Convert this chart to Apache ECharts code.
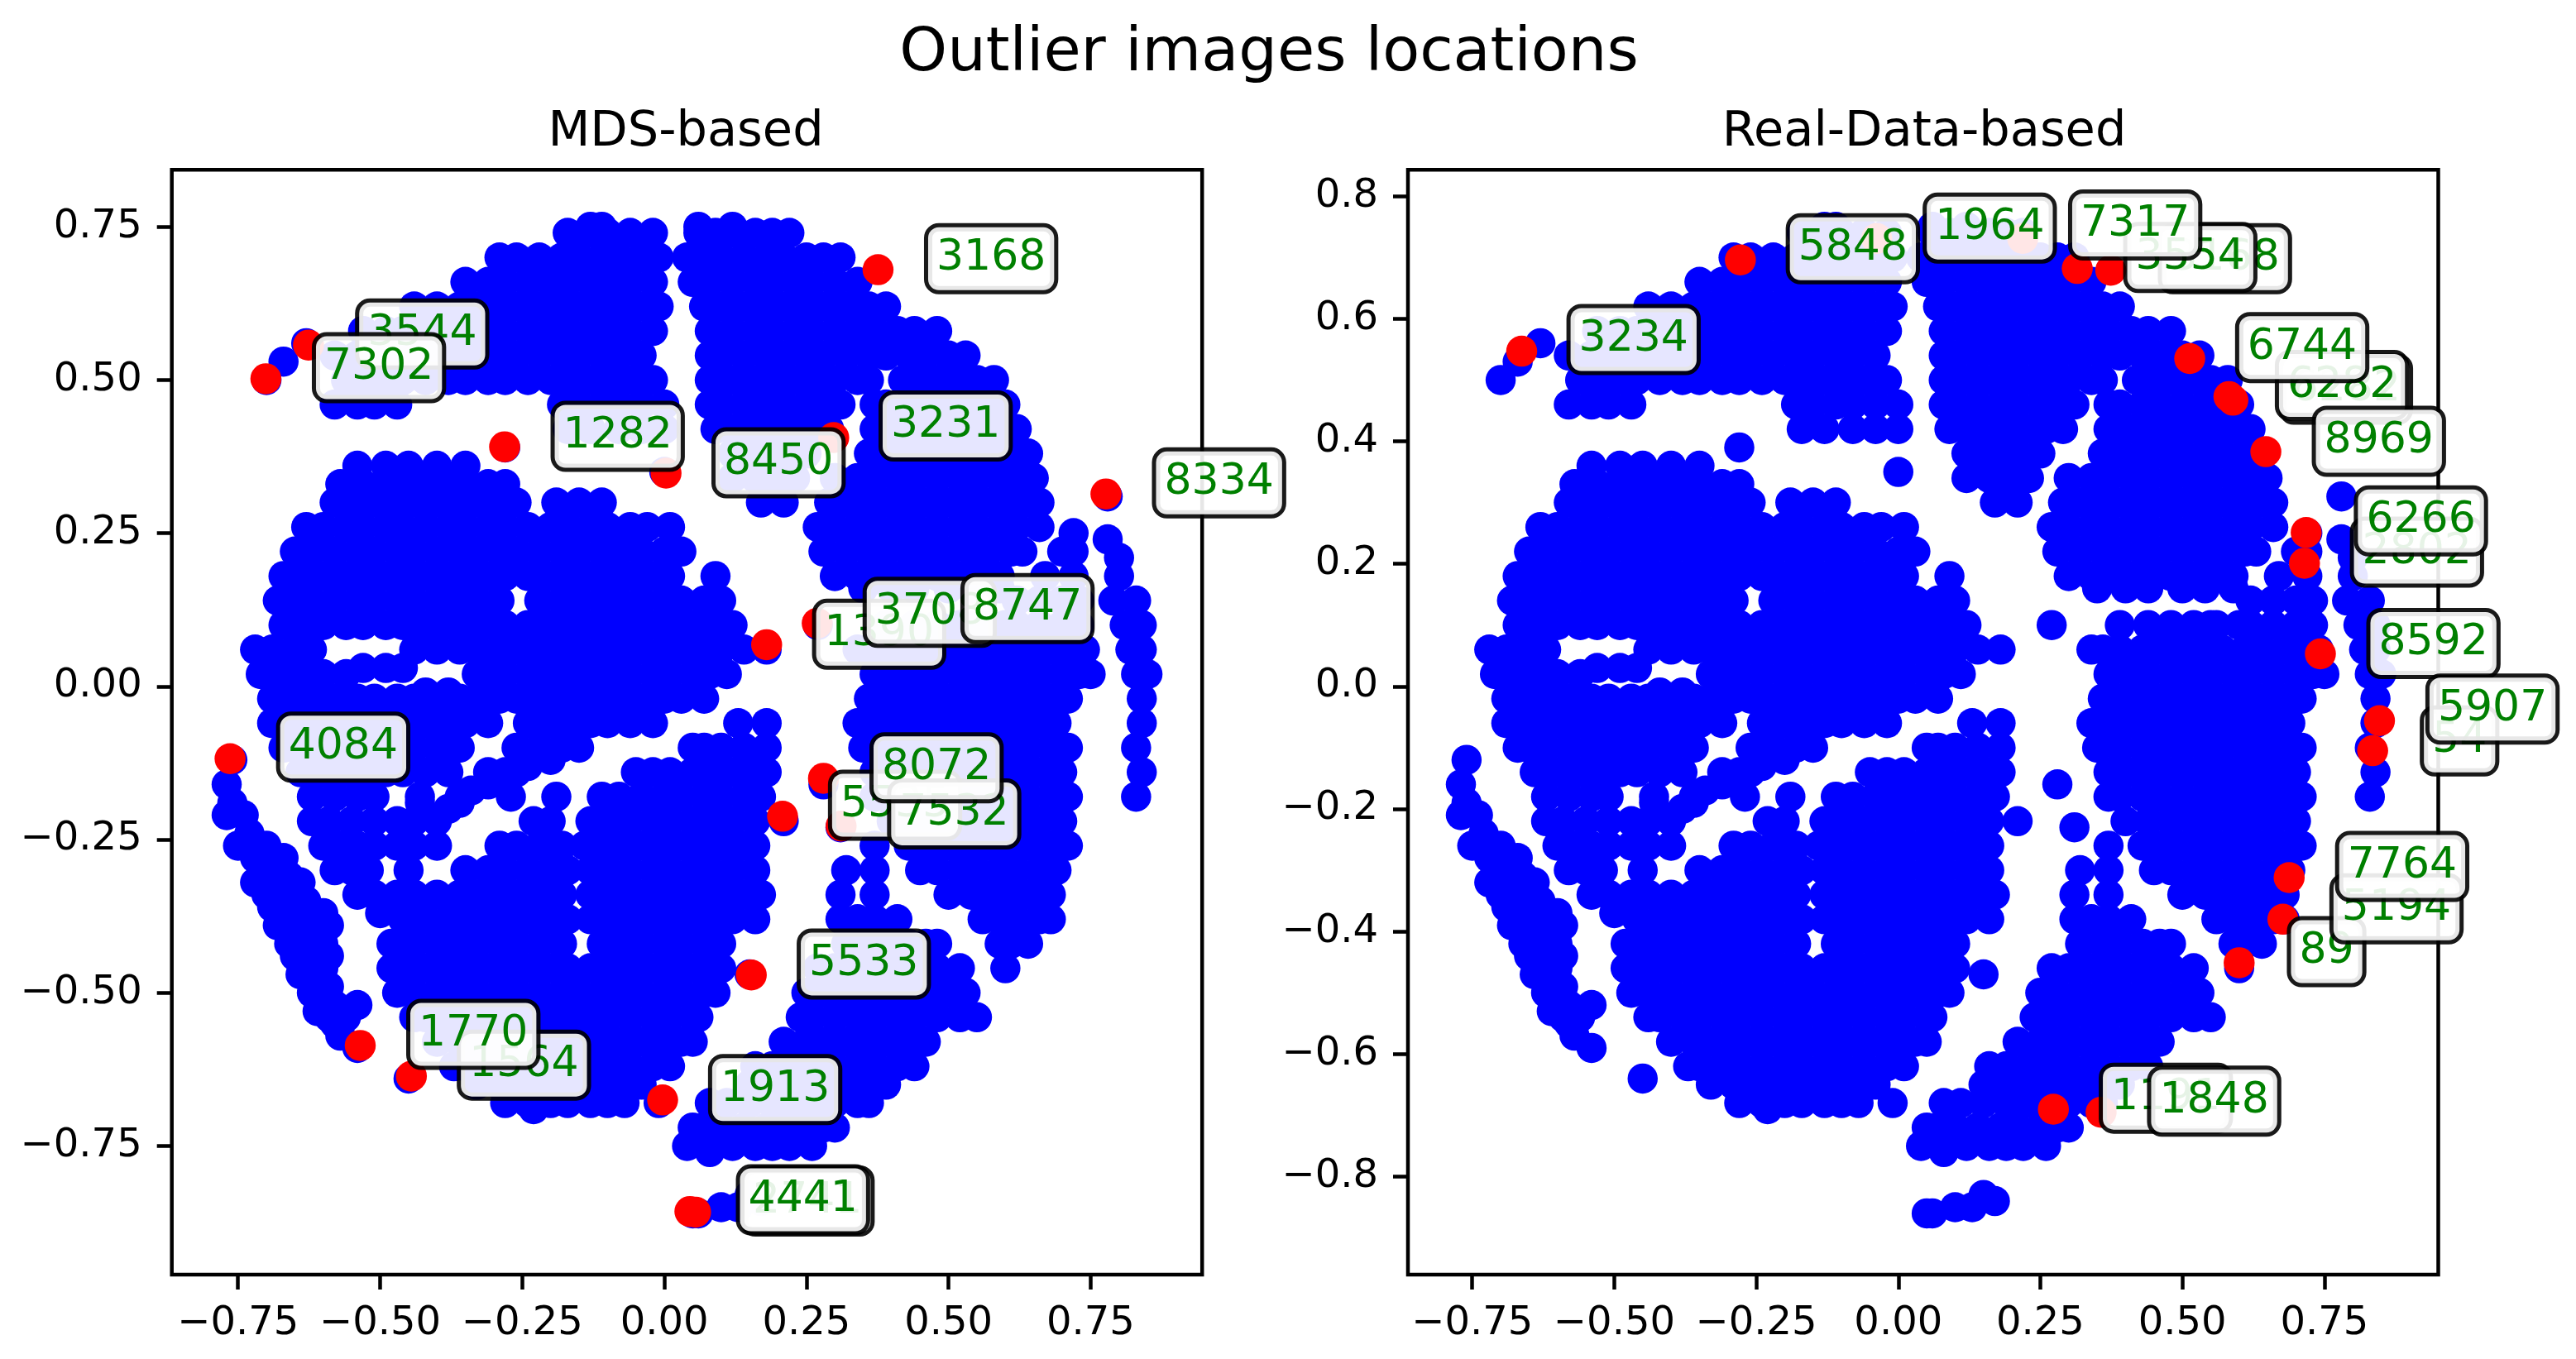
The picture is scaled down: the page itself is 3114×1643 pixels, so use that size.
<!DOCTYPE html>
<html><head><meta charset="utf-8">
<style>html,body{margin:0;padding:0;background:#fff}#c{width:3114px;height:1643px}</style>
<script src="https://cdn.jsdelivr.net/npm/echarts@6/dist/echarts.min.js"></script>
</head><body><div id="c"></div>
<script>
// Blue cloud, in hundredths of a data unit. Shared by both panels.
const blueRows = [
[74,[-17,-13,-10,-6,-2,6,9,12,16,19,22]],
[70,[-29,-26,-22,-18,-15,-11,-8,-4,-1,4,7,10,14,18,21,25,28,31]],
[66,[-35,-31,-28,-24,-20,-17,-13,-10,-6,-2,5,8,12,16,19,23,26,30,34]],
[62,[-44,-40,-36,-33,-29,-26,-22,-18,-15,-11,-8,-4,-1,7,10,14,18,21,25,28,32,36,39]],
[58,[-53,-49,-46,-42,-38,-35,-31,-28,-24,-20,-17,-13,-10,-6,-2,8,12,16,19,23,26,30,34,37,41,44,48]],
[54,[-58,-54,-51,-47,-44,-40,-36,-33,-29,-26,-22,-18,-15,-11,-8,-4,8,10,14,18,21,25,28,32,36,39,43,46,50,53]],
[50,[-56,-53,-49,-46,-42,-38,-35,-31,-28,-24,-20,-17,-13,-10,-6,-2,8,12,16,19,23,26,30,34,36,42,44,48,52,55,58]],
[46,[-58,-54,-51,-47,-18,-15,-11,-8,-4,0,8,10,14,18,21,25,28,31,37,39,43,46,50,54,57,60]],
[42,[-17,-13,-8,-4,0,9,12,16,19,23,26,29,37,41,44,48,52,55,59,62]],
[38,[12,14,18,21,25,36,39,43,46,50,54,57,61,64]],
[36,[-54,-49,-45,-40,-35]],
[34,[12,16,19,23,30,34,37,41,44,48,52,55,59,62,65]],
[33,[-57,-53,-49,-46,-42,-38,-35,-31,-28]],
[30,[-58,-54,-51,-47,-44,-40,-36,-33,-29,-26,-19,-15,-11,17,21,29,32,36,39,43,46,50,54,57,61,64,66]],
[26,[-63,-60,-56,-53,-49,-46,-42,-38,-35,-31,-28,-24,-20,-17,-13,-10,-6,-3,1,27,30,34,37,41,44,48,52,55,59,62,66]],
[22,[-65,-62,-58,-54,-51,-47,-44,-40,-36,-33,-29,-26,-22,-18,-15,-11,-8,-4,0,3,28,32,36,39,43,46,50,54,57,61,63,70,72]],
[18,[-67,-64,-60,-56,-53,-49,-46,-42,-38,-35,-31,-28,-24,-20,-17,-13,-10,-6,-2,1,9,30,34,37,41,44,48,52,55,59,67,72,80]],
[16,[35,40,44,50,54,59]],
[14,[-68,-65,-62,-58,-54,-51,-47,-44,-40,-36,-33,-29,-22,-18,-15,-11,-8,-4,0,3,7,10,62,66,70,73,79,83]],
[10,[-67,-64,-60,-56,-53,-49,-46,-42,-38,-35,-31,-28,-24,-20,-17,-13,-10,-6,-2,1,5,8,12,39,44,48,52,55,56,60,62,66,70,73,81,84]],
[6,[-72,-69,-65,-62,-44,-40,-36,-33,-29,-26,-22,-18,-15,-11,-8,-4,0,3,7,10,14,18,34,36,39,43,46,50,54,57,61,64,68,72,74,82,84]],
[3,[-53,-49,-46]],
[2,[-71,-67,-64,-60,-56,-33,-31,-28,-24,-20,-17,-13,-10,-6,-2,1,5,8,11,37,41,44,48,52,55,59,62,66,70,73,75,83,85]],
[-1,[-42,-38]],
[-2,[-69,-65,-62,-58,-54,-51,-47,-44,-40,-36,-33,-29,-26,-22,-18,-15,-11,-8,-4,0,3,7,36,39,43,46,50,54,57,61,64,68,71,84]],
[-6,[-69,-67,-64,-60,-56,-53,-49,-46,-42,-38,-35,-31,-24,-20,-17,-13,-10,-6,-2,13,18,34,37,41,44,48,52,55,59,62,66,69,84]],
[-10,[-67,-65,-62,-58,-54,-51,-47,-44,-40,-36,-26,-22,-18,-15,5,7,10,14,18,35,39,43,46,50,54,57,61,64,68,71,83]],
[-14,[-64,-60,-56,-53,-49,-46,-42,-38,-31,-28,-26,-5,-2,1,5,8,12,16,18,37,41,44,48,52,55,59,62,66,70,84]],
[-18,[-62,-58,-54,-51,-43,-36,-27,-19,-11,-8,-4,0,3,7,10,14,17,37,39,43,46,50,54,57,61,64,68,71,83]],
[-22,[-62,-59,-55,-51,-47,-44,-40,-23,-20,-13,-10,-6,-2,1,5,8,12,16,40,44,48,52,55,59,62,66,70]],
[-26,[-60,-57,-54,-51,-47,-44,-40,-29,-26,-22,-18,-14,-11,-8,-4,0,3,7,10,14,16,37,43,46,50,54,57,61,64,68,71]],
[-30,[-58,-55,-52,-45,-35,-31,-28,-24,-20,-17,-13,-10,-6,-2,1,5,8,12,16,32,37,45,48,52,55,59,62,66,69]],
[-34,[-54,-51,-47,-44,-40,-36,-33,-29,-26,-22,-18,-13,-11,-8,-4,0,3,7,10,14,17,31,37,50,54,57,61,64,68]],
[-37,[-50]],
[-38,[-46,-42,-38,-35,-31,-28,-24,-20,-17,-13,-10,-6,-2,1,5,8,12,16,31,34,37,41,56,59,62,66,68]],
[-42,[-48,-44,-40,-36,-33,-29,-26,-22,-18,-11,-8,-4,0,3,7,10,32,36,39,43,46,48,59,61,64]],
[-46,[-48,-46,-42,-38,-35,-31,-28,-24,-20,-17,-13,-10,-6,-2,1,5,8,10,27,30,34,37,41,44,48,52,60]],
[-50,[-47,-44,-40,-36,-33,-29,-26,-22,-18,-15,-11,-8,-4,0,3,7,9,25,28,32,36,39,43,46,50,53]],
[-54,[-44,-42,-38,-35,-31,-28,-24,-20,-17,-13,-10,-6,-2,1,5,6,24,26,30,34,37,41,44,48,52,55]],
[-58,[-40,-36,-33,-29,-26,-22,-18,-15,-11,-8,-4,0,3,5,21,25,28,32,36,39,43,46]],
[-62,[-37,-35,-31,-28,-24,-20,-17,-13,-10,-6,-2,1,16,19,23,26,30,34,37,41,44]],
[-65,[-33,-29,-26,-22,-18,-15,-11,-8,-4,15,18,21,25,28,32,36,39]],
[-68,[-28,-24,-20,-17,-13,-10,-7,-1,8,11,15,19,23,26,30,34,36]],
[-72,[5,7,10,14,18,21,25,28,30]],
[-75,[4,8,12,16,19,22,26]]
];
// Tails and isolated blue points, [x, y] in hundredths.
const blueSingles = [
[-76,-12],[-77,-16],[-76,-19],[-77,-21],[-74,-21],[-75,-26],[-73,-24],[-72,-28],[-70,-26],[-72,-32],[-69,-30],[-67,-28],[-67,-33],[-70,-34],[-66,-31],[-64,-32],[-69,-36],[-66,-35],[-63,-35],[-62,-37],[-60,-37],[-68,-39],[-64,-39],[-62,-41],[-59,-39],[-66,-42],[-60,-42],[-65,-44],[-62,-44],[-59,-44],[-63,-46],[-60,-46],[-64,-47],[-61,-47],[-59,-49],[-62,-50],[-60,-50],[-61,-53],[-58,-52],[-54,-52],[-59,-54],[-56,-54],[-58,-55],[-57,-57],[-54,-59],
[-70,50],[-67,53],[-63,56],
[-13,75],[-11,75],[6,75],[12,75],
[-43,-19],[-36,-19],[-38,-20],[-34,-17],[-31,-16],[-24,-13],[-20,-12],
[-28,39],[0,35],[78,31],[78,24],[80,21],[27,10],[72,25],[28,-16],[31,-23],[21,-22],[15,-47],[-45,-64],[-23,-69],[8,-76],
[5,-86],[6,-86],[10,-85],[13,-85],[15,-83],[17,-84]
];
// Outlier points, [x, y].
const redLeft = [[-.701,.502],[-.626,.557],[-.281,.391],[.003,.348],[.376,.68],[.298,.406],[.777,.314],[.18,.068],[.269,.103],[-.764,-.118],[-.535,-.586],[-.445,-.636],[-.003,-.675],[.045,-.857],[.055,-.858],[.28,-.15],[.208,-.212],[.311,-.228],[.153,-.471]];
const redRight = [[-.663,.547],[-.278,.696],[-.038,.731],[.219,.731],[.315,.682],[.374,.679],[.513,.535],[.582,.473],[.589,.467],[.647,.383],[.718,.251],[.715,.201],[.743,.053],[.847,-.056],[.835,-.105],[.688,-.312],[.677,-.38],[.6,-.451],[.273,-.69],[.357,-.695]];
// Annotation boxes: text and centre, in draw order.
const labelsLeft = [['3544',-.426,.575],['7302',-.502,.52],['1282',-.082,.408],['3168',.575,.698],['8450',.201,.365],['3231',.495,.425],['8334',.976,.332],['1390',.378,.085],['3708',.467,.121],['8747',.639,.127],['4084',-.565,-.099],['1564',-.247,-.618],['1770',-.336,-.568],['5535',.406,-.194],['7532',.51,-.208],['8072',.479,-.133],['5533',.351,-.453],['1913',.195,-.658],['2741',.252,-.84],['4441',.244,-.838]];
const labelsRight = [['3234',-.466,.566],['5848',-.08,.714],['1964',.161,.748],['3168',.575,.698],['3554',.514,.7],['7317',.417,.753],['6282',.788,.485],['6282',.781,.491],['6744',.711,.553],['8969',.846,.4],['2802',.913,.219],['6266',.92,.27],['8592',.942,.07],['54',.988,-.089],['5907',1.046,-.037],['89',.754,-.433],['5194',.877,-.363],['7764',.887,-.294],['1191',.471,-.672],['1848',.556,-.677]];
const xTicks = [-.75,-.5,-.25,0,.25,.5,.75];
const yTicksLeft = [-.75,-.5,-.25,0,.25,.5,.75];
const yTicksRight = [-.8,-.6,-.4,-.2,0,.2,.4,.6,.8];
const mainTitle = 'Outlier images locations';
const leftTitle = 'MDS-based';
const rightTitle = 'Real-Data-based';

const FONT = '"DejaVu Sans"';
const blue = [];
blueRows.forEach(r => r[1].forEach(x => blue.push([x / 100, r[0] / 100])));
blueSingles.forEach(p => blue.push([p[0] / 100, p[1] / 100]));

const axisCommon = (ticks, digits, extra) => ({
  type: 'value', scale: false, splitLine: {show: false},
  axisLine: {show: false, onZero: false},
  axisTick: {show: true, length: 18, inside: false, customValues: ticks, lineStyle: {color: '#000', width: 4.5}},
  axisLabel: Object.assign({show: true, customValues: ticks, margin: 36, color: '#000', fontFamily: FONT, fontSize: 48,
    formatter: v => v.toFixed(digits).replace('-', '\u2212')}, extra)
});
const panels = [
  {xMin: -.8665, xMax: .9462, yTicks: yTicksLeft, yDigits: 2, red: redLeft, labels: labelsLeft, left: 207.7},
  {xMin: -.8632, xMax: .9505, yTicks: yTicksRight, yDigits: 1, red: redRight, labels: labelsRight, left: 1702}
];
const grids = [], xAxes = [], yAxes = [], series = [];
panels.forEach((p, i) => {
  grids.push({show: true, left: p.left, top: 205.3, width: 1245.5, height: 1335.7, borderColor: '#000', borderWidth: 4.5, backgroundColor: '#fff'});
  xAxes.push(Object.assign(axisCommon(xTicks, 2, {}), {gridIndex: i, min: p.xMin, max: p.xMax}));
  yAxes.push(Object.assign(axisCommon(p.yTicks, p.yDigits, {padding: [14, 0, 0, 0]}), {gridIndex: i, min: -.96, max: .843}));
  const base = {type: 'scatter', xAxisIndex: i, yAxisIndex: i, clip: false, silent: true, animation: false, progressive: 0, large: false};
  series.push(Object.assign({}, base, {data: blue, symbolSize: 36.5, itemStyle: {color: '#0000ff', opacity: 1}, z: 3}));
  series.push(Object.assign({}, base, {data: p.red, symbolSize: 37.5, itemStyle: {color: '#ff0000', opacity: 1}, z: 4}));
  series.push(Object.assign({}, base, {
    data: p.labels.map(l => ({name: l[0], value: [l[1], l[2]]})), symbolSize: 0, z: 5,
    itemStyle: {color: 'transparent', opacity: 1},
    label: {show: true, position: 'inside', opacity: 1, formatter: '{b}', color: '#008000', fontFamily: FONT, fontSize: 52, lineHeight: 52,
      padding: [14, 10, 10, 10], backgroundColor: 'rgba(255,255,255,0.9)', borderColor: 'rgba(0,0,0,0.9)', borderWidth: 5, borderRadius: 13}
  }));
});
const chart = echarts.init(document.getElementById('c'), null, {renderer: 'canvas'});
chart.setOption({
  backgroundColor: '#fff', animation: false,
  title: [
    {text: mainTitle, left: 1529, top: 24, textAlign: 'center', textStyle: {fontFamily: FONT, fontSize: 73.5, fontWeight: 'normal', color: '#000'}},
    {text: leftTitle, left: 824, top: 126, textAlign: 'center', textStyle: {fontFamily: FONT, fontSize: 59, fontWeight: 'normal', color: '#000'}},
    {text: rightTitle, left: 2321, top: 126, textAlign: 'center', textStyle: {fontFamily: FONT, fontSize: 59, fontWeight: 'normal', color: '#000'}}
  ],
  grid: grids, xAxis: xAxes, yAxis: yAxes, series: series
});
</script></body></html>
